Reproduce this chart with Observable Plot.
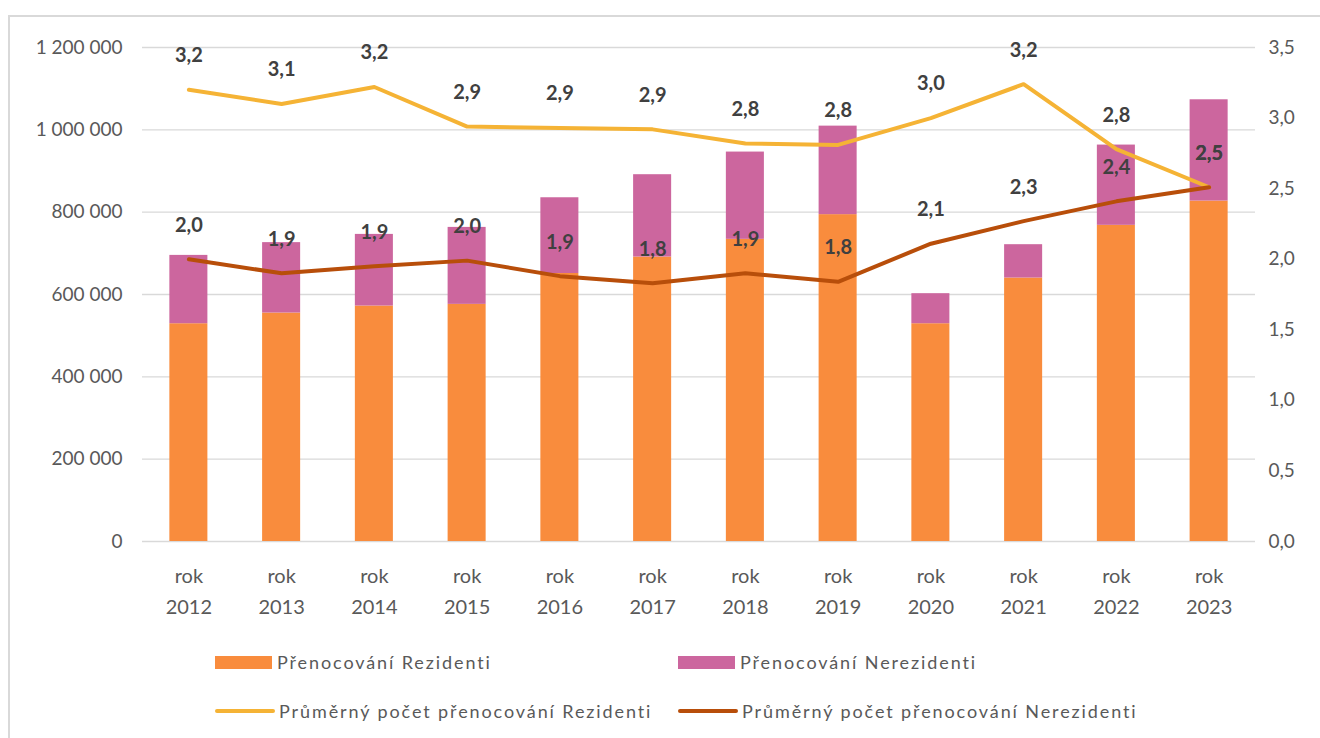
<!DOCTYPE html>
<html>
<head>
<meta charset="utf-8">
<script src="https://cdn.jsdelivr.net/npm/d3@7"></script>
<script src="https://cdn.jsdelivr.net/npm/@observablehq/plot@0.6"></script>
<style>
  html, body { margin: 0; padding: 0; background: #fff; }
  body { width: 1320px; height: 738px; position: relative; overflow: hidden; font-family: Lato, "Open Sans", sans-serif; }
  #frame { position: absolute; left: 8px; top: 15px; width: 1400px; height: 800px; border: 2px solid #d9d9d9; box-sizing: border-box; }
  #chart { position: absolute; left: 0; top: 0; }
  .leg { position: absolute; font-size: 18px; color: #595959; letter-spacing: 1.9px; white-space: nowrap; line-height: 20px; }
  .sw { position: absolute; }
</style>
</head>
<body>
<div id="frame"></div>
<div id="chart"></div>
<div class="sw" style="left:215px;top:656px;width:57px;height:13px;background:#F98C3D"></div>
<div class="leg" style="left:277px;top:652px">Přenocování Rezidenti</div>
<div class="sw" style="left:678px;top:656px;width:57px;height:13px;background:#CC669E"></div>
<div class="leg" style="left:740px;top:652px">Přenocování Nerezidenti</div>
<div class="sw" style="left:215px;top:709px;width:60px;height:4px;border-radius:2px;background:#F5B335"></div>
<div class="leg" style="left:279px;top:701px">Průměrný počet přenocování Rezidenti</div>
<div class="sw" style="left:678px;top:709px;width:60px;height:4px;border-radius:2px;background:#B84E0A"></div>
<div class="leg" style="left:742px;top:701px">Průměrný počet přenocování Nerezidenti</div>
<script>
const years = ["2012","2013","2014","2015","2016","2017","2018","2019","2020","2021","2022","2023"];
const rezidenti   = [529000, 555000, 572000, 576000, 651000, 691000, 734000, 794000, 529000, 640000, 768000, 827000];
const nerezidenti = [166000, 171000, 174000, 187000, 184000, 200000, 212000, 215000,  73000,  81000, 195000, 246000];
const avgRezidenti   = [3.20, 3.10, 3.22, 2.94, 2.93, 2.92, 2.82, 2.81, 3.00, 3.24, 2.78, 2.51];
const avgNerezidenti = [2.00, 1.90, 1.95, 1.99, 1.88, 1.83, 1.90, 1.84, 2.11, 2.27, 2.41, 2.51];
const leftTicks  = [0, 200000, 400000, 600000, 800000, 1000000, 1200000];
const rightTicks = [0, 0.5, 1.0, 1.5, 2.0, 2.5, 3.0, 3.5];

const LEFT_MAX = 1200000, RIGHT_MAX = 3.5;
const K = LEFT_MAX / RIGHT_MAX;

const bars = years.flatMap((y, i) => [
  {year: y, type: "Přenocování Rezidenti", value: rezidenti[i]},
  {year: y, type: "Přenocování Nerezidenti", value: nerezidenti[i]}
]);
const fmtLeft = d => d3.format(",")(d).replace(/,/g, " ");
const fmtRight = d => d.toFixed(1).replace(".", ",");

const chart = Plot.plot({
  width: 1320,
  height: 630,
  marginTop: 47,
  marginBottom: 89,
  marginLeft: 142,
  marginRight: 65,
  style: {fontFamily: "Lato, 'Open Sans', sans-serif", background: "transparent", overflow: "visible"},
  x: {domain: years, paddingInner: 0.59, paddingOuter: 0.295, round: false, label: null},
  y: {domain: [0, LEFT_MAX], label: null},
  color: {domain: ["Přenocování Rezidenti", "Přenocování Nerezidenti"], range: ["#F98C3D", "#CC669E"]},
  marks: [
    Plot.ruleY(leftTicks, {stroke: "#d9d9d9", strokeWidth: 1.3}),
    Plot.barY(bars, Plot.stackY({x: "year", y: "value", fill: "type", order: null})),
    Plot.line(years, {x: d => d, y: (d, i) => avgRezidenti[i] * K, stroke: "#F5B335", strokeWidth: 4, curve: "linear", strokeLinecap: "round", strokeLinejoin: "round"}),
    Plot.line(years, {x: d => d, y: (d, i) => avgNerezidenti[i] * K, stroke: "#B84E0A", strokeWidth: 4, curve: "linear", strokeLinecap: "round", strokeLinejoin: "round"}),
    Plot.text(years, {x: d => d, y: (d, i) => avgRezidenti[i] * K, text: (d, i) => fmtRight(avgRezidenti[i]), dy: -34, fontSize: 20, fontWeight: "bold", fill: "#404040"}),
    Plot.text(years, {x: d => d, y: (d, i) => avgNerezidenti[i] * K, text: (d, i) => fmtRight(avgNerezidenti[i]), dy: -34, fontSize: 20, fontWeight: "bold", fill: "#404040"}),
    Plot.axisY(leftTicks, {anchor: "left", tickSize: 0, tickPadding: 20, tickFormat: fmtLeft, fontSize: 19, fill: "#595959", label: null}),
    Plot.axisY(rightTicks.map(v => v * K), {anchor: "right", tickSize: 0, tickPadding: 13, tickFormat: d => fmtRight(d / K), fontSize: 19, fill: "#595959", label: null}),
    Plot.axisX({tickSize: 0, tickPadding: 19, tickFormat: d => `rok\n${d}`, fontSize: 20, lineHeight: 1.55, fill: "#595959", label: null})
  ]
});
document.getElementById("chart").appendChild(chart);
</script>
</body>
</html>
